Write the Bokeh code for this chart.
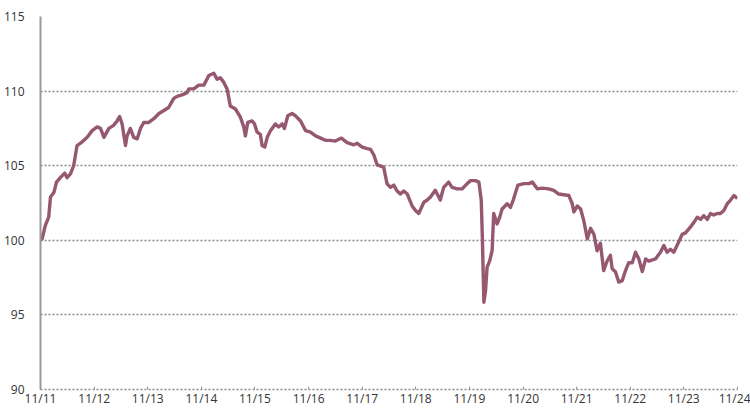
import pandas as pd
from bokeh.plotting import figure
from bokeh.models import Range1d, FixedTicker, DatetimeTickFormatter, ColumnDataSource
from bokeh.embed import file_html
from bokeh.resources import INLINE

dates = [
    "2011-11-01", "2011-11-12", "2011-12-04", "2011-12-27", "2012-01-08", "2012-01-31",
    "2012-02-18", "2012-03-15", "2012-04-14", "2012-04-30", "2012-05-23", "2012-06-14",
    "2012-07-07", "2012-08-11", "2012-09-14", "2012-10-18", "2012-11-21", "2012-12-14",
    "2013-01-06", "2013-02-09", "2013-03-13", "2013-04-06", "2013-04-23", "2013-05-10",
    "2013-06-02", "2013-06-13", "2013-07-05", "2013-07-28", "2013-08-21", "2013-09-12",
    "2013-10-05", "2013-11-08", "2013-12-12", "2014-01-16", "2014-02-19", "2014-03-23",
    "2014-04-26", "2014-05-19", "2014-06-23", "2014-07-27", "2014-08-07", "2014-09-10",
    "2014-10-14", "2014-11-18", "2014-12-22", "2015-01-25", "2015-02-16", "2015-03-10",
    "2015-04-02", "2015-04-25", "2015-05-06", "2015-05-17", "2015-06-21", "2015-07-25",
    "2015-08-17", "2015-08-28", "2015-09-13", "2015-10-13", "2015-10-29", "2015-11-16",
    "2015-12-08", "2015-12-20", "2016-01-07", "2016-01-24", "2016-02-15", "2016-03-19",
    "2016-04-11", "2016-05-04", "2016-05-20", "2016-06-12", "2016-07-11", "2016-08-03",
    "2016-09-07", "2016-10-11", "2016-11-14", "2016-12-18", "2017-01-22", "2017-02-23",
    "2017-03-29", "2017-05-02", "2017-06-12", "2017-07-21", "2017-09-05", "2017-09-28",
    "2017-11-01", "2017-12-05", "2017-12-28", "2018-01-20", "2018-02-11", "2018-03-27",
    "2018-04-19", "2018-05-12", "2018-06-04", "2018-06-27", "2018-07-19", "2018-08-11",
    "2018-09-04", "2018-10-07", "2018-10-30", "2018-11-21", "2018-12-26", "2019-01-18",
    "2019-02-09", "2019-03-14", "2019-04-17", "2019-05-10", "2019-06-13", "2019-07-06",
    "2019-08-10", "2019-09-13", "2019-10-17", "2019-11-09", "2019-12-13", "2020-01-05",
    "2020-01-21", "2020-01-28", "2020-02-04", "2020-02-08", "2020-02-19",
    "2020-03-01", "2020-03-18", "2020-04-04", "2020-04-15", "2020-05-08", "2020-05-26",
    "2020-06-11", "2020-07-16", "2020-08-07", "2020-08-26", "2020-09-11", "2020-09-27",
    "2020-11-07", "2020-12-11", "2021-01-03", "2021-02-06", "2021-03-11", "2021-04-25",
    "2021-05-29", "2021-07-02", "2021-09-09", "2021-10-02", "2021-10-13", "2021-11-06",
    "2021-11-28", "2021-12-20", "2022-01-13", "2022-02-04", "2022-02-27", "2022-03-20",
    "2022-04-12", "2022-05-04", "2022-05-27", "2022-06-19", "2022-07-01", "2022-07-23",
    "2022-08-15", "2022-09-08", "2022-09-30", "2022-10-22", "2022-11-15", "2022-12-07",
    "2022-12-30", "2023-01-22", "2023-02-14", "2023-03-07", "2023-04-22", "2023-05-26",
    "2023-06-18", "2023-07-10", "2023-08-02", "2023-08-25", "2023-09-28", "2023-10-21",
    "2023-11-13", "2023-12-17", "2024-01-09", "2024-02-01", "2024-02-24", "2024-03-16",
    "2024-04-09", "2024-05-01", "2024-05-23", "2024-06-16", "2024-07-08", "2024-07-31",
    "2024-08-23", "2024-09-15", "2024-10-08", "2024-10-31",
]
values = [
    100.0, 100.1, 101.0, 101.55, 102.9, 103.2,
    103.9, 104.2, 104.5, 104.2, 104.45, 105.0,
    106.35, 106.6, 106.9, 107.35, 107.6, 107.5,
    106.9, 107.5, 107.7, 108.0, 108.3, 107.8,
    106.35, 107.0, 107.5, 106.9, 106.8, 107.5,
    107.9, 107.9, 108.15, 108.5, 108.7, 108.9,
    109.5, 109.65, 109.75, 109.9, 110.15, 110.15,
    110.4, 110.4, 111.05, 111.2, 110.8, 110.9,
    110.6, 110.15, 109.6, 109.0, 108.8, 108.25,
    107.6, 107.0, 107.9, 108.0, 107.8, 107.25,
    107.1, 106.35, 106.25, 106.9, 107.35, 107.8,
    107.6, 107.8, 107.5, 108.35, 108.5, 108.35,
    108.0, 107.35, 107.25, 107.0, 106.85, 106.7,
    106.7, 106.65, 106.85, 106.55, 106.4, 106.5,
    106.25, 106.15, 106.1, 105.7, 105.05, 104.9,
    103.8, 103.55, 103.7, 103.3, 103.1, 103.3,
    103.1, 102.3, 102.0, 101.8, 102.55, 102.7,
    102.9, 103.35, 102.7, 103.55, 103.9, 103.55,
    103.45, 103.45, 103.8, 104.0, 104.0, 103.9,
    102.7, 100.4, 97.5, 95.85, 96.6,
    98.2, 98.6, 99.3, 101.8, 101.1, 101.55,
    102.1, 102.45, 102.2, 102.7, 103.2, 103.7,
    103.8, 103.8, 103.9, 103.45, 103.5, 103.45,
    103.35, 103.1, 103.0, 102.45, 101.9, 102.3,
    102.1, 101.3, 100.1, 100.8, 100.4, 99.3,
    99.8, 97.97, 98.6, 99.0, 98.1, 97.9,
    97.2, 97.3, 97.97, 98.5, 98.5, 99.2,
    98.75, 97.9, 98.75, 98.6, 98.75, 99.2,
    99.65, 99.2, 99.4, 99.2, 99.9, 100.4,
    100.5, 100.9, 101.2, 101.55, 101.4, 101.65,
    101.4, 101.8, 101.7, 101.8, 101.8, 102.0,
    102.45, 102.7, 103.0, 102.8,
]
tick_years = list(range(2011, 2025))
y_ticks = [90, 95, 100, 105, 110, 115]

src = ColumnDataSource(dict(x=pd.to_datetime(dates), y=values))

x_start = pd.Timestamp("2011-11-01")
x_end = pd.Timestamp("2024-11-01")

p = figure(width=750, height=410, frame_width=697, frame_height=373,
           output_backend="svg", toolbar_location=None,
           x_axis_type="datetime",
           x_range=Range1d(x_start, x_end), y_range=Range1d(90, 115),
           min_border_left=40, min_border_right=13, min_border_top=16, min_border_bottom=0)
p.outline_line_color = None
p.background_fill_color = "white"
p.border_fill_color = "white"

p.line("x", "y", source=src, line_color="#965870", line_width=3.4, line_join="round")

ticks_ms = [pd.Timestamp(f"{yr}-11-01").value // 10**6 for yr in tick_years]
p.xaxis.ticker = FixedTicker(ticks=ticks_ms)
fmt = "%m/%y"
p.xaxis.formatter = DatetimeTickFormatter(microseconds=fmt, milliseconds=fmt, seconds=fmt,
                                          minsec=fmt, minutes=fmt, hourmin=fmt, hours=fmt,
                                          days=fmt, months=fmt, years=fmt)
p.xaxis.axis_line_color = "#8a8a8a"
p.xaxis.axis_line_dash = "2 2"
p.xaxis.axis_line_width = 1.3
p.xaxis.major_tick_in = 3
p.xaxis.major_tick_out = 0
p.xaxis.major_tick_line_color = "#999999"
p.xaxis.minor_tick_line_color = None
p.xaxis.major_label_standoff = 0
p.xgrid.grid_line_color = None

p.yaxis.ticker = FixedTicker(ticks=y_ticks)
p.yaxis.axis_line_color = "#9a9a9a"
p.yaxis.axis_line_width = 2
p.yaxis.major_tick_line_color = None
p.yaxis.minor_tick_line_color = None
p.yaxis.major_label_standoff = 10

for ax in (p.xaxis, p.yaxis):
    ax.major_label_text_font = "Open Sans"
    ax.major_label_text_font_size = "12px"
    ax.major_label_text_color = "#333333"

p.ygrid.grid_line_color = "#8a8a8a"
p.ygrid.grid_line_dash = "2 2"
p.ygrid.grid_line_width = 1.3

open("out.html", "w").write(file_html(p, INLINE))
